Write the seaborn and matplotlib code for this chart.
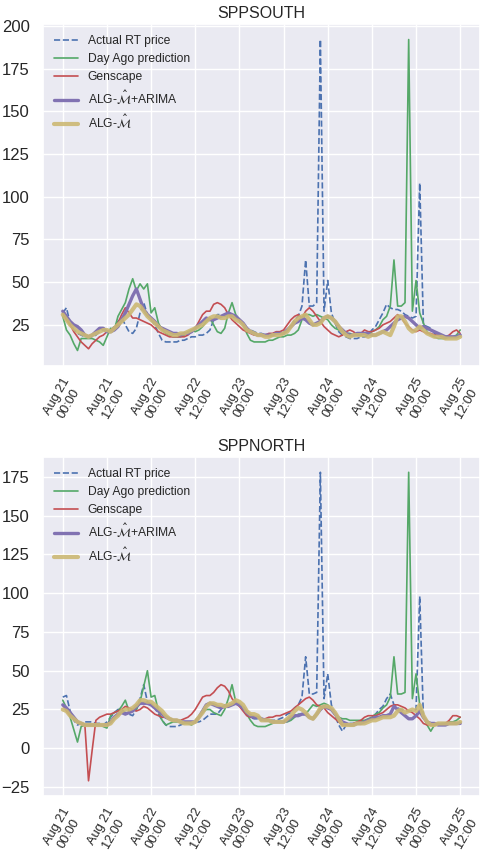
import matplotlib
matplotlib.use("Agg")
import matplotlib.pyplot as plt
import matplotlib.dates as mdates
import numpy as np
import pandas as pd
import seaborn as sns

# Hourly timestamps, Aug 21 00:00 through Aug 25 12:00
times = pd.date_range("2019-08-21 00:00", periods=109, freq="h")
tick_times = pd.date_range("2019-08-21 00:00", "2019-08-25 12:00", freq="12h")

# ---------------- SPPSOUTH ----------------
south_actual = [
    32, 35, 26, 22, 20, 19, 18, 18, 18, 19, 21, 22,
    21, 22, 24, 27, 29, 25, 21, 20, 23, 32, 38, 31,
    28, 25, 20, 16, 15, 15, 15, 15, 16, 16, 17, 18,
    18, 19, 19, 20, 22, 28, 31, 31, 30, 31, 30, 29,
    28, 25, 23, 22, 21, 20, 20, 19, 19, 19, 20, 20,
    21, 22, 24, 28, 30, 36, 63, 36, 36, 38, 192, 33,
    51, 32, 26, 21, 19, 18, 17, 17, 17, 18, 18, 19,
    22, 24, 28, 32, 37, 35, 34, 34, 33, 31, 30, 29,
    30, 108, 25, 24, 23, 20, 19, 19, 18, 18, 18, 18,
    19,
]
south_day_ago = [
    30, 22, 19, 14, 10, 17, 17, 17, 17, 16, 15, 13,
    18, 23, 22, 30, 34, 38, 46, 52, 45, 49, 46, 49,
    32, 35, 26, 22, 20, 19, 18, 18, 18, 19, 21, 22,
    21, 22, 24, 27, 29, 25, 21, 20, 23, 32, 38, 31,
    28, 25, 20, 16, 15, 15, 15, 15, 16, 16, 17, 18,
    18, 19, 19, 20, 22, 28, 31, 31, 30, 31, 30, 29,
    28, 25, 23, 22, 21, 20, 20, 19, 19, 19, 20, 20,
    21, 22, 24, 28, 30, 36, 63, 36, 36, 38, 192, 33,
    51, 32, 26, 21, 19, 18, 17, 17, 17, 18, 18, 19,
    22,
]
south_genscape = [
    32, 28, 25, 21, 18, 15, 13, 11, 14, 16, 18, 19,
    21, 22, 23, 26, 31, 35, 32, 29, 29, 28, 27, 26,
    25, 23, 21, 20, 19, 18, 18, 18, 18, 18, 19, 21,
    23, 27, 31, 33, 33, 37, 38, 37, 35, 31, 28, 26,
    24, 22, 21, 20, 19, 19, 19, 19, 20, 20, 21, 21,
    22, 25, 28, 30, 31, 29, 33, 35, 33, 30, 27, 24,
    22, 20, 19, 18, 19, 21, 22, 21, 19, 20, 22, 21,
    21, 22, 23, 25, 26, 27, 29, 31, 29, 26, 24, 22,
    21, 22, 21, 20, 20, 19, 19, 18, 18, 19, 21, 22,
    20,
]
south_alg_arima = [
    33, 30, 27, 25, 24, 22, 19, 18, 19, 21, 23, 23,
    21, 21, 22, 24, 28, 32, 37, 42, 46, 40, 34, 31,
    29, 27, 24, 23, 22, 21, 20, 20, 19, 20, 20, 21,
    23, 25, 27, 29, 28, 28, 29, 30, 31, 32, 31, 30,
    28, 26, 23, 21, 20, 19, 19, 19, 19, 19, 20, 20,
    20, 22, 24, 26, 27, 29, 28, 26, 25, 26, 27, 29,
    30, 29, 27, 24, 22, 20, 19, 19, 20, 20, 20, 20,
    19, 19, 20, 21, 22, 24, 26, 28, 29, 30, 29, 27,
    25, 23, 24, 23, 22, 21, 20, 19, 18, 18, 18, 18,
    19,
]
south_alg = [
    31, 28, 25, 23, 21, 20, 19, 18, 19, 20, 21, 22,
    22, 21, 23, 25, 27, 29, 31, 34, 37, 36, 33, 30,
    28, 26, 24, 22, 21, 20, 19, 19, 20, 20, 21, 22,
    23, 24, 25, 27, 29, 30, 30, 29, 29, 30, 30, 28,
    27, 25, 22, 21, 20, 19, 19, 18, 18, 19, 19, 19,
    20, 21, 24, 27, 29, 30, 31, 28, 25, 25, 26, 29,
    30, 29, 27, 24, 21, 19, 18, 19, 19, 19, 19, 18,
    19, 19, 20, 21, 20, 19, 24, 30, 30, 27, 23, 21,
    22, 24, 22, 20, 19, 18, 18, 18, 17, 17, 17, 17,
    18,
]

# ---------------- SPPNORTH ----------------
north_actual = [
    33, 34, 24, 18, 15, 16, 17, 17, 17, 16, 16, 15,
    17, 20, 23, 25, 25, 23, 22, 21, 25, 32, 41, 30,
    28, 26, 22, 18, 15, 14, 14, 14, 15, 16, 17, 17,
    17, 17, 18, 20, 22, 22, 22, 25, 28, 27, 28, 29,
    28, 25, 22, 20, 19, 19, 18, 18, 18, 18, 18, 19,
    20, 22, 23, 26, 28, 33, 59, 35, 35, 36, 178, 32,
    48, 28, 21, 15, 11, 15, 16, 16, 16, 17, 17, 18,
    20, 22, 25, 27, 32, 35, 28, 26, 25, 24, 24, 24,
    25, 98, 20, 17, 16, 16, 16, 16, 16, 16, 16, 16,
    17,
]
north_day_ago = [
    31, 26, 20, 12, 4, 14, 15, 15, 15, 15, 15, 14,
    13, 21, 23, 24, 27, 31, 24, 24, 25, 30, 40, 50,
    33, 34, 24, 18, 15, 16, 17, 17, 17, 16, 16, 15,
    17, 20, 23, 25, 25, 23, 22, 21, 25, 32, 41, 30,
    28, 26, 22, 18, 15, 14, 14, 14, 15, 16, 17, 17,
    17, 17, 18, 20, 22, 22, 22, 25, 28, 27, 28, 29,
    28, 25, 22, 20, 19, 19, 18, 18, 18, 18, 18, 19,
    20, 22, 23, 26, 28, 33, 59, 35, 35, 36, 178, 32,
    48, 28, 21, 15, 11, 15, 16, 16, 16, 17, 17, 18,
    20,
]
north_genscape = [
    28, 24, 21, 19, 17, 16, 15, -21, -1, 18, 20, 21,
    22, 22, 23, 24, 25, 27, 26, 25, 24, 25, 27, 26,
    24, 22, 21, 20, 20, 19, 18, 18, 18, 19, 20, 22,
    25, 29, 33, 34, 34, 36, 39, 41, 40, 37, 32, 29,
    27, 24, 21, 20, 20, 20, 19, 19, 20, 20, 21, 21,
    22, 23, 24, 26, 28, 30, 32, 33, 31, 28, 27, 26,
    23, 21, 19, 17, 15, 15, 15, 16, 17, 18, 20, 21,
    21, 21, 22, 23, 25, 27, 28, 28, 27, 26, 24, 23,
    21, 19, 16, 15, 15, 15, 15, 15, 16, 18, 21, 21,
    20,
]
north_alg_arima = [
    28, 26, 23, 20, 17, 16, 15, 15, 15, 15, 15, 15,
    15, 17, 20, 22, 23, 22, 23, 24, 27, 29, 29, 29,
    28, 26, 24, 22, 20, 19, 18, 18, 17, 17, 17, 17,
    17, 20, 24, 28, 29, 28, 27, 26, 27, 27, 28, 29,
    28, 26, 23, 21, 20, 20, 19, 18, 18, 17, 17, 17,
    17, 18, 20, 21, 21, 22, 22, 20, 19, 22, 25, 27,
    26, 25, 22, 19, 17, 16, 15, 15, 16, 16, 17, 18,
    19, 20, 20, 21, 21, 22, 27, 25, 23, 21, 19, 19,
    21, 24, 20, 17, 16, 16, 15, 15, 15, 16, 16, 16,
    16,
]
north_alg = [
    25, 24, 21, 19, 17, 16, 15, 15, 15, 15, 15, 15,
    15, 16, 19, 21, 24, 25, 25, 26, 28, 31, 31, 30,
    30, 28, 26, 24, 21, 19, 18, 18, 17, 16, 16, 16,
    17, 20, 23, 27, 29, 29, 28, 28, 27, 28, 29, 31,
    30, 28, 24, 22, 22, 21, 18, 18, 18, 17, 17, 17,
    17, 19, 21, 24, 26, 25, 23, 20, 19, 22, 26, 27,
    27, 26, 23, 19, 15, 15, 15, 15, 16, 16, 16, 17,
    18, 18, 19, 20, 20, 20, 21, 24, 25, 23, 24, 25,
    24, 28, 21, 17, 15, 15, 16, 16, 16, 16, 16, 16,
    17,
]

labels = [
    "Actual RT price",
    "Day Ago prediction",
    "Genscape",
    r"ALG-$\hat{\mathcal{M}}$+ARIMA",
    r"ALG-$\hat{\mathcal{M}}$",
]
colors = ["#4C72B0", "#55A868", "#C44E52", "#8172B2", "#CCB974"]
widths = [1.2, 1.2, 1.2, 2.4, 3.0]
styles = ["--", "-", "-", "-", "-"]
alphas = [1.0, 1.0, 1.0, 1.0, 0.9]

panels = [
    ("SPPSOUTH", [south_actual, south_day_ago, south_genscape, south_alg_arima, south_alg]),
    ("SPPNORTH", [north_actual, north_day_ago, north_genscape, north_alg_arima, north_alg]),
]

sns.set_theme(style="darkgrid")
plt.rcParams["font.family"] = ["Liberation Sans", "DejaVu Sans"]

fig = plt.figure(figsize=(4.82, 8.58), dpi=100)
ax_top = fig.add_axes([0.089, 0.5734, 0.907, 0.3986])
ax_bot = fig.add_axes([0.089, 0.0720, 0.907, 0.3955])

for ax, (name, series) in zip([ax_top, ax_bot], panels):
    for vals, lab, col, lw, ls, al in zip(series, labels, colors, widths, styles, alphas):
        sns.lineplot(x=times, y=np.asarray(vals, dtype=float), ax=ax, color=col,
                     lw=lw, linestyle=ls, alpha=al, label=lab)
    ax.set_title(name, fontsize=11.5, color=".15", pad=4)
    ax.set_xlabel("")
    ax.set_ylabel("")
    ax.set_xticks(tick_times)
    ax.xaxis.set_major_formatter(mdates.DateFormatter("%b %d\n%H:%M"))
    ax.tick_params(axis="x", labelsize=9.2, rotation=60, pad=1)
    ax.tick_params(axis="y", labelsize=12)
    ax.legend(loc="upper left", fontsize=8.7, frameon=False)

ax_top.set_yticks(range(25, 201, 25))
ax_bot.set_yticks(range(-25, 176, 25))

fig.savefig("out.png", dpi=100)
